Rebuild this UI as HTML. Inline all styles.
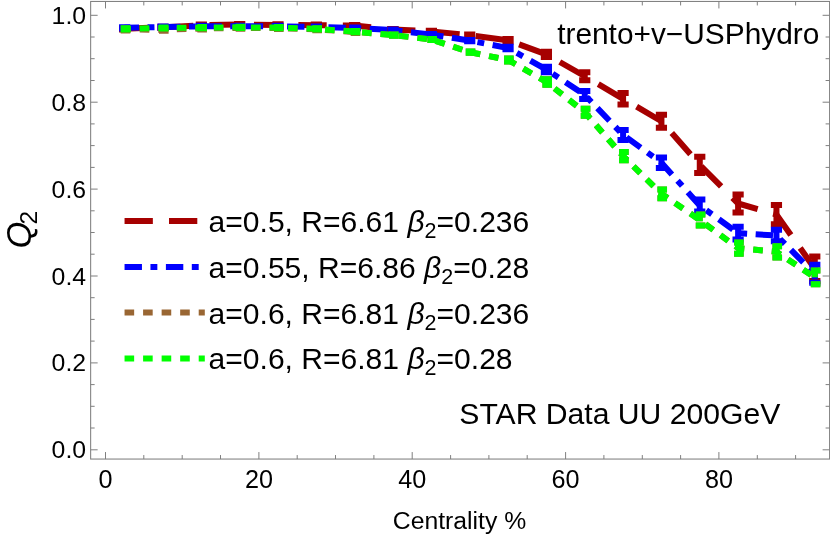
<!DOCTYPE html>
<html><head><meta charset="utf-8"><title>Q2 vs Centrality</title>
<style>
html,body{margin:0;padding:0;background:#fff;}
svg{display:block;will-change:transform;}
text{font-family:"Liberation Sans",sans-serif;fill:#000;}
</style></head><body>
<svg width="830" height="537" viewBox="0 0 830 537">
<rect width="830" height="537" fill="#fff"/>
<rect x="90.65" y="1.45" width="738.95" height="457.6" fill="none" stroke="#7f7f7f" stroke-width="1.05"/><path d="M105.5,459.05v-7M105.5,1.45v7M143.8,459.05v-4M143.8,1.45v4M182.2,459.05v-4M182.2,1.45v4M220.5,459.05v-4M220.5,1.45v4M258.9,459.05v-7M258.9,1.45v7M297.2,459.05v-4M297.2,1.45v4M335.5,459.05v-4M335.5,1.45v4M373.9,459.05v-4M373.9,1.45v4M412.2,459.05v-7M412.2,1.45v7M450.6,459.05v-4M450.6,1.45v4M488.9,459.05v-4M488.9,1.45v4M527.2,459.05v-4M527.2,1.45v4M565.6,459.05v-7M565.6,1.45v7M603.9,459.05v-4M603.9,1.45v4M642.3,459.05v-4M642.3,1.45v4M680.6,459.05v-4M680.6,1.45v4M718.9,459.05v-7M718.9,1.45v7M757.3,459.05v-4M757.3,1.45v4M795.6,459.05v-4M795.6,1.45v4M90.65,449.8h7M829.6,449.8h-7M90.65,428.0h4M829.6,428.0h-4M90.65,406.3h4M829.6,406.3h-4M90.65,384.6h4M829.6,384.6h-4M90.65,362.9h7M829.6,362.9h-7M90.65,341.1h4M829.6,341.1h-4M90.65,319.4h4M829.6,319.4h-4M90.65,297.7h4M829.6,297.7h-4M90.65,276.0h7M829.6,276.0h-7M90.65,254.2h4M829.6,254.2h-4M90.65,232.5h4M829.6,232.5h-4M90.65,210.8h4M829.6,210.8h-4M90.65,189.1h7M829.6,189.1h-7M90.65,167.4h4M829.6,167.4h-4M90.65,145.6h4M829.6,145.6h-4M90.65,123.9h4M829.6,123.9h-4M90.65,102.2h7M829.6,102.2h-7M90.65,80.5h4M829.6,80.5h-4M90.65,58.7h4M829.6,58.7h-4M90.65,37.0h4M829.6,37.0h-4M90.65,15.3h7M829.6,15.3h-7" stroke="#7f7f7f" stroke-width="1" fill="none"/>
<polyline points="124.67,28.8 163.01,27.3 201.35,25.2 239.69,24.5 278.03,24.9 316.37,25.2 354.71,25.5 393.05,29.5 431.39,31.4 469.73,35.1 508.07,40.3 546.41,54.4 584.75,76.2 623.09,98.8 661.43,121.2 699.77,164.9 738.11,203.5 776.45,214.6 814.79,268.7" fill="none" stroke="#a60000" stroke-width="6" stroke-dasharray="28.3 16.15" stroke-dashoffset="4" stroke-linejoin="miter"/>
<path d="M124.67,28.2V29.4M163.01,26.7V27.9M201.35,24.6V25.8M239.69,23.9V25.1M278.03,24.3V25.5M316.37,24.6V25.8M354.71,24.9V26.1M393.05,28.9V30.1M431.39,30.8V32.0M469.73,34.5V35.7M508.07,39.1V41.5M546.41,51.7V57.1M584.75,72.2V80.2M623.09,93.0V104.6M661.43,114.7V127.7M699.77,156.8V173.0M738.11,194.4V212.6M776.45,205.0V224.2M814.79,256.5V280.9" fill="none" stroke="#a60000" stroke-width="6" stroke-dasharray="28.3 16.15" stroke-dashoffset="2.9"/>
<path d="M130.27,28.2h-11.2M130.27,29.4h-11.2M168.61,26.7h-11.2M168.61,27.9h-11.2M206.95,24.6h-11.2M206.95,25.8h-11.2M245.29,23.9h-11.2M245.29,25.1h-11.2M283.63,24.3h-11.2M283.63,25.5h-11.2M321.97,24.6h-11.2M321.97,25.8h-11.2M360.31,24.9h-11.2M360.31,26.1h-11.2M398.65,28.9h-11.2M398.65,30.1h-11.2M436.99,30.8h-11.2M436.99,32.0h-11.2M475.33,34.5h-11.2M475.33,35.7h-11.2M513.67,39.1h-11.2M513.67,41.5h-11.2M552.01,51.7h-11.2M552.01,57.1h-11.2M590.35,72.2h-11.2M590.35,80.2h-11.2M628.69,93.0h-11.2M628.69,104.6h-11.2M667.03,114.7h-11.2M667.03,127.7h-11.2M705.37,156.8h-11.2M705.37,173.0h-11.2M743.71,194.4h-11.2M743.71,212.6h-11.2M782.05,205.0h-11.2M782.05,224.2h-11.2M820.39,256.5h-11.2M820.39,280.9h-11.2" fill="none" stroke="#a60000" stroke-width="6" stroke-dasharray="28.3 16.15"/>
<polyline points="124.67,27.8 163.01,27.0 201.35,26.3 239.69,26.3 278.03,26.3 316.37,27.0 354.71,28.0 393.05,30.2 431.39,34.6 469.73,40.6 508.07,48.0 546.41,69.5 584.75,95.0 623.09,134.9 661.43,162.7 699.77,205.5 738.11,233.2 776.45,235.5 814.79,273.8" fill="none" stroke="#0000ff" stroke-width="6" stroke-dasharray="17.4 8.5 6.9 8.55" stroke-dashoffset="3" stroke-linejoin="miter"/>
<path d="M124.67,27.2V28.4M163.01,26.4V27.6M201.35,25.7V26.9M239.69,25.7V26.9M278.03,25.7V26.9M316.37,26.4V27.6M354.71,27.4V28.6M393.05,29.6V30.8M431.39,34.0V35.2M469.73,40.0V41.2M508.07,46.8V49.2M546.41,66.8V72.2M584.75,91.0V99.0M623.09,129.9V139.9M661.43,157.5V167.9M699.77,199.5V211.5M738.11,226.8V239.5M776.45,229.7V241.3M814.79,264.8V282.7" fill="none" stroke="#0000ff" stroke-width="6" stroke-dasharray="17.4 8.5 6.9 8.55" stroke-dashoffset="2.9"/>
<path d="M130.27,27.2h-11.2M130.27,28.4h-11.2M168.61,26.4h-11.2M168.61,27.6h-11.2M206.95,25.7h-11.2M206.95,26.9h-11.2M245.29,25.7h-11.2M245.29,26.9h-11.2M283.63,25.7h-11.2M283.63,26.9h-11.2M321.97,26.4h-11.2M321.97,27.6h-11.2M360.31,27.4h-11.2M360.31,28.6h-11.2M398.65,29.6h-11.2M398.65,30.8h-11.2M436.99,34.0h-11.2M436.99,35.2h-11.2M475.33,40.0h-11.2M475.33,41.2h-11.2M513.67,46.8h-11.2M513.67,49.2h-11.2M552.01,66.8h-11.2M552.01,72.2h-11.2M590.35,91.0h-11.2M590.35,99.0h-11.2M628.69,129.9h-11.2M628.69,139.9h-11.2M667.03,157.5h-11.2M667.03,167.9h-11.2M705.37,199.5h-11.2M705.37,211.5h-11.2M743.71,226.8h-11.2M743.71,239.5h-11.2M782.05,229.7h-11.2M782.05,241.3h-11.2M820.39,264.8h-11.2M820.39,282.7h-11.2" fill="none" stroke="#0000ff" stroke-width="6" stroke-dasharray="17.4 8.5 6.9 8.55"/>
<polyline points="124.67,29.5 163.01,29.8 201.35,28.6 239.69,27.9 278.03,28.1 316.37,29.3 354.71,32.0 393.05,35.1 431.39,39.5 469.73,52.2 508.07,59.9 546.41,82.0 584.75,112.3 623.09,156.1 661.43,193.8 699.77,220.0 738.11,248.1 776.45,251.8 814.79,277.4" fill="none" stroke="#996633" stroke-width="6" stroke-dasharray="9.6 8.94" stroke-dashoffset="3.5" stroke-linejoin="miter"/>
<path d="M124.67,28.6V30.4M163.01,28.9V30.7M201.35,27.7V29.5M239.69,27.0V28.8M278.03,27.2V29.0M316.37,28.4V30.2M354.71,31.1V32.9M393.05,34.5V35.7M431.39,38.9V40.1M469.73,51.6V52.8M508.07,58.4V61.4M546.41,79.3V84.7M584.75,108.8V115.8M623.09,151.9V160.2M661.43,189.4V198.2M699.77,214.6V225.4M738.11,242.4V253.8M776.45,246.2V257.5M814.79,270.6V284.2" fill="none" stroke="#996633" stroke-width="6" stroke-dasharray="9.6 8.94" stroke-dashoffset="2.9"/>
<path d="M130.27,28.6h-11.2M130.27,30.4h-11.2M168.61,28.9h-11.2M168.61,30.7h-11.2M206.95,27.7h-11.2M206.95,29.5h-11.2M245.29,27.0h-11.2M245.29,28.8h-11.2M283.63,27.2h-11.2M283.63,29.0h-11.2M321.97,28.4h-11.2M321.97,30.2h-11.2M360.31,31.1h-11.2M360.31,32.9h-11.2M398.65,34.5h-11.2M398.65,35.7h-11.2M436.99,38.9h-11.2M436.99,40.1h-11.2M475.33,51.6h-11.2M475.33,52.8h-11.2M513.67,58.4h-11.2M513.67,61.4h-11.2M552.01,79.3h-11.2M552.01,84.7h-11.2M590.35,108.8h-11.2M590.35,115.8h-11.2M628.69,151.9h-11.2M628.69,160.2h-11.2M667.03,189.4h-11.2M667.03,198.2h-11.2M705.37,214.6h-11.2M705.37,225.4h-11.2M743.71,242.4h-11.2M743.71,253.8h-11.2M782.05,246.2h-11.2M782.05,257.5h-11.2M820.39,270.6h-11.2M820.39,284.2h-11.2" fill="none" stroke="#996633" stroke-width="6" stroke-dasharray="9.6 8.94"/>
<polyline points="124.67,28.8 163.01,28.0 201.35,27.6 239.69,27.3 278.03,27.6 316.37,28.8 354.71,31.7 393.05,35.1 431.39,39.5 469.73,52.2 508.07,59.9 546.41,82.0 584.75,112.3 623.09,156.1 661.43,193.8 699.77,220.0 738.11,248.1 776.45,251.8 814.79,277.4" fill="none" stroke="#00ff00" stroke-width="6" stroke-dasharray="9.6 8.94" stroke-dashoffset="3.5" stroke-linejoin="miter"/>
<path d="M124.67,28.2V29.4M163.01,27.4V28.6M201.35,27.0V28.2M239.69,26.7V27.9M278.03,27.0V28.2M316.37,28.2V29.4M354.71,31.1V32.3M393.05,34.5V35.7M431.39,38.9V40.1M469.73,51.6V52.8M508.07,58.4V61.4M546.41,79.3V84.7M584.75,108.8V115.8M623.09,151.9V160.2M661.43,189.4V198.2M699.77,214.6V225.4M738.11,242.4V253.8M776.45,246.2V257.5M814.79,270.6V284.2" fill="none" stroke="#00ff00" stroke-width="6" stroke-dasharray="9.6 8.94" stroke-dashoffset="2.9"/>
<path d="M130.27,28.2h-11.2M130.27,29.4h-11.2M168.61,27.4h-11.2M168.61,28.6h-11.2M206.95,27.0h-11.2M206.95,28.2h-11.2M245.29,26.7h-11.2M245.29,27.9h-11.2M283.63,27.0h-11.2M283.63,28.2h-11.2M321.97,28.2h-11.2M321.97,29.4h-11.2M360.31,31.1h-11.2M360.31,32.3h-11.2M398.65,34.5h-11.2M398.65,35.7h-11.2M436.99,38.9h-11.2M436.99,40.1h-11.2M475.33,51.6h-11.2M475.33,52.8h-11.2M513.67,58.4h-11.2M513.67,61.4h-11.2M552.01,79.3h-11.2M552.01,84.7h-11.2M590.35,108.8h-11.2M590.35,115.8h-11.2M628.69,151.9h-11.2M628.69,160.2h-11.2M667.03,189.4h-11.2M667.03,198.2h-11.2M705.37,214.6h-11.2M705.37,225.4h-11.2M743.71,242.4h-11.2M743.71,253.8h-11.2M782.05,246.2h-11.2M782.05,257.5h-11.2M820.39,270.6h-11.2M820.39,284.2h-11.2" fill="none" stroke="#00ff00" stroke-width="6" stroke-dasharray="9.6 8.94"/>
<text x="86.1" y="458.2" text-anchor="end" font-size="24.8">0.0</text><text x="86.1" y="371.4" text-anchor="end" font-size="24.8">0.2</text><text x="86.1" y="284.5" text-anchor="end" font-size="24.8">0.4</text><text x="86.1" y="197.6" text-anchor="end" font-size="24.8">0.6</text><text x="86.1" y="110.7" text-anchor="end" font-size="24.8">0.8</text><text x="86.1" y="23.8" text-anchor="end" font-size="24.8">1.0</text><text x="105.5" y="488.4" text-anchor="middle" font-size="25.2">0</text><text x="258.9" y="488.4" text-anchor="middle" font-size="25.2">20</text><text x="412.2" y="488.4" text-anchor="middle" font-size="25.2">40</text><text x="565.6" y="488.4" text-anchor="middle" font-size="25.2">60</text><text x="718.9" y="488.4" text-anchor="middle" font-size="25.2">80</text><text x="459.5" y="528.5" text-anchor="middle" font-size="24.75">Centrality %</text><text transform="translate(31,248.5) rotate(-90)" font-size="34.5"><tspan font-style="italic">Q</tspan><tspan font-size="24.5" dy="5.9" dx="-2.8">2</tspan></text><text x="819.3" y="43.9" text-anchor="end" font-size="29.85">trento+v−USPhydro</text><text x="459.3" y="423.6" font-size="30.15">STAR Data UU 200GeV</text>
<line x1="124.55" y1="221.05" x2="204.8" y2="221.05" stroke="#a60000" stroke-width="6" stroke-dasharray="28.3 16.15"/><text x="208.6" y="232.0" font-size="30.05">a=0.5, R=6.61 <tspan font-style="italic">β</tspan><tspan font-size="21.5" dy="6">2</tspan><tspan dy="-6">=0.236</tspan></text><line x1="124.55" y1="266.9" x2="204.8" y2="266.9" stroke="#0000ff" stroke-width="6" stroke-dasharray="17.4 8.5 6.9 8.55"/><text x="208.6" y="277.8" font-size="30.05">a=0.55, R=6.86 <tspan font-style="italic">β</tspan><tspan font-size="21.5" dy="6">2</tspan><tspan dy="-6">=0.28</tspan></text><line x1="124.55" y1="312.6" x2="204.8" y2="312.6" stroke="#996633" stroke-width="6" stroke-dasharray="9.6 8.94"/><text x="208.6" y="323.5" font-size="30.05">a=0.6, R=6.81 <tspan font-style="italic">β</tspan><tspan font-size="21.5" dy="6">2</tspan><tspan dy="-6">=0.236</tspan></text><line x1="124.55" y1="358.4" x2="204.8" y2="358.4" stroke="#00ff00" stroke-width="6" stroke-dasharray="9.6 8.94"/><text x="208.6" y="369.3" font-size="30.05">a=0.6, R=6.81 <tspan font-style="italic">β</tspan><tspan font-size="21.5" dy="6">2</tspan><tspan dy="-6">=0.28</tspan></text>
</svg>
</body></html>
